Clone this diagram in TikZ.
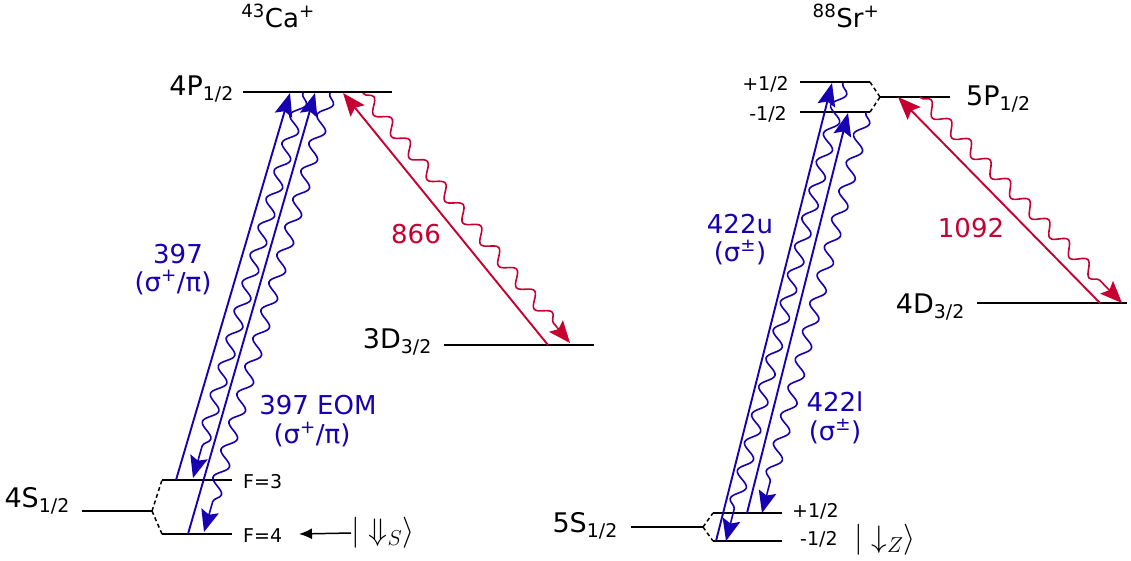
\documentclass[tikz,border=0pt]{standalone}
\usepackage{fontspec}
\setmainfont{DejaVu Sans}
\usetikzlibrary{arrows.meta,decorations.pathmorphing,calc}
\definecolor{lblue}{RGB}{23,0,178}
\definecolor{lred}{RGB}{199,0,50}
\tikzset{
  level/.style={line width=2pt, black},
  split/.style={line width=1.5pt, black, dash pattern=on 4pt off 3pt},
  absorb/.style={line width=1.9pt, -{Stealth[length=23pt,width=18pt,inset=4pt]}},
  wave/.style={line width=1.6pt, decorate,
    decoration={snake, amplitude=6.5pt, segment length=29pt, pre length=1pt, post length=1pt}},
  wavered/.style={line width=1.6pt, decorate,
    decoration={snake, amplitude=6pt, segment length=28pt, pre length=1pt, post length=1pt}},
  wavehead/.style={line width=1.6pt, -{Stealth[length=22pt,width=18pt,inset=4pt]}},
  lvllab/.style={font=\fontsize{27}{30}\selectfont, inner sep=0pt},
  sublab/.style={font=\fontsize{19}{22}\selectfont, inner sep=0pt},
  trlab/.style={font=\fontsize{26}{28}\selectfont, inner sep=0pt},
  ketlab/.style={font=\fontsize{24}{26}\selectfont, inner sep=0pt, scale=1.25},
}
\begin{document}
\begin{tikzpicture}[x=1pt,y=-1pt]
\useasboundingbox (0,0) rectangle (1131,560);

% ---------- Ca levels ----------
\coordinate (P4a) at (243,92);  \coordinate (P4b) at (392,92);
\coordinate (D3a) at (444,345); \coordinate (D3b) at (594,345);
\coordinate (S4a) at (82,511);  \coordinate (S4j) at (152,511);
\coordinate (F3a) at (162,480); \coordinate (F3b) at (232,480);
\coordinate (F4a) at (162,534); \coordinate (F4b) at (232,534);
\draw[level] (P4a) -- (P4b);
\draw[level] (D3a) -- (D3b);
\draw[level] (S4a) -- (S4j);
\draw[level] (F3a) -- (F3b);
\draw[level] (F4a) -- (F4b);
\draw[split] (S4j) -- (F3a);
\draw[split] (S4j) -- (F4a);

\node[trlab, anchor=base] (tCa) at (278,27) {\textsuperscript{43}Ca\textsuperscript{+}};
\node[lvllab, anchor=base east] (P4lab) at (234,95) {4P\textsubscript{1/2}};
\node[lvllab, anchor=base east] (D3lab) at (432,348) {3D\textsubscript{3/2}};
\node[lvllab, anchor=base east] (S4lab) at (70,507) {4S\textsubscript{1/2}};
\node[sublab, anchor=base west] (F3lab) at (243,488) {F=3};
\node[sublab, anchor=base west] (F4lab) at (243,542) {F=4};
\node[ketlab, anchor=west] (ketS) at (351,533) {$|\Downarrow_S\rangle$};
\coordinate (F4arr) at (299,534);
\draw[line width=1.5pt, -{Latex[length=13pt,width=11pt]}] (ketS.west) -- (F4arr);

% ---------- Ca transitions ----------
\coordinate (c1s) at (176,480); \coordinate (c1e) at (290,93);
\coordinate (c2s) at (188,534); \coordinate (c2e) at (315,93);
\coordinate (w1s) at (303,93);  \coordinate (w1e) at (193,478);
\coordinate (w2s) at (330,93);  \coordinate (w2e) at (204,532);
\coordinate (r1s) at (548,345); \coordinate (r1e) at (343,93);
\coordinate (rw1s) at (363,93); \coordinate (rw1e) at (570,343);
\coordinate (w1m) at ($(w1e)!20pt!(w1s)$);
\coordinate (w2m) at ($(w2e)!20pt!(w2s)$);
\coordinate (rw1m) at ($(rw1e)!20pt!(rw1s)$);
\draw[absorb, lblue] (c1s) -- (c1e);
\draw[absorb, lblue] (c2s) -- (c2e);
\draw[wave, lblue] (w1s) -- (w1m);
\draw[wavehead, lblue] (w1m) -- (w1e);
\draw[wave, lblue] (w2s) -- (w2m);
\draw[wavehead, lblue] (w2m) -- (w2e);
\draw[absorb, lred] (r1s) -- (r1e);
\draw[wavered, lred] (rw1s) -- (rw1m);
\draw[wavehead, lred] (rw1m) -- (rw1e);

\node[trlab, lblue, anchor=base] (l397a) at (178,263) {397};
\node[trlab, lblue, anchor=base] (l397b) at (173,291) {(σ\textsuperscript{+}/π)};
\node[trlab, lblue, anchor=base] (lEOMa) at (318,414) {397 EOM};
\node[trlab, lblue, anchor=base] (lEOMb) at (312,443) {(σ\textsuperscript{+}/π)};
\node[trlab, lred, anchor=base] (l866) at (416,243) {866};

% ---------- Sr levels ----------
\coordinate (S5a) at (631,527); \coordinate (S5j) at (703,527);
\coordinate (Spa) at (713,513); \coordinate (Spb) at (782,513);
\coordinate (Sma) at (713,541); \coordinate (Smb) at (782,541);
\coordinate (Ppa) at (800,82);  \coordinate (Ppb) at (870,82);
\coordinate (Pma) at (800,112); \coordinate (Pmb) at (870,112);
\coordinate (P5j) at (880,97);  \coordinate (P5b) at (950,97);
\coordinate (D4a) at (977,303); \coordinate (D4b) at (1127,303);
\draw[level] (S5a) -- (S5j);
\draw[level] (Spa) -- (Spb);
\draw[level] (Sma) -- (Smb);
\draw[level] (Ppa) -- (Ppb);
\draw[level] (Pma) -- (Pmb);
\draw[level] (P5j) -- (P5b);
\draw[level] (D4a) -- (D4b);
\draw[split] (S5j) -- (Spa);
\draw[split] (S5j) -- (Sma);
\draw[split] (Ppb) -- (P5j);
\draw[split] (Pmb) -- (P5j);

\node[trlab, anchor=base] (tSr) at (846,27) {\textsuperscript{88}Sr\textsuperscript{+}};
\node[lvllab, anchor=base east] (S5lab) at (618,532) {5S\textsubscript{1/2}};
\node[sublab, anchor=base west] (Splab) at (792,517) {+1/2};
\node[sublab, anchor=base west] (Smlab) at (800,545) {-1/2};
\node[ketlab, anchor=west] (ketZ) at (854,540) {$|\downarrow_Z\rangle$};
\node[sublab, anchor=base east] (Pplab) at (789,90) {+1/2};
\node[sublab, anchor=base east] (Pmlab) at (787,120) {-1/2};
\node[lvllab, anchor=base west] (P5lab) at (966,105) {5P\textsubscript{1/2}};
\node[lvllab, anchor=base east] (D4lab) at (965,313) {4D\textsubscript{3/2}};

% ---------- Sr transitions ----------
\coordinate (s1s) at (716,541); \coordinate (s1e) at (832,83);
\coordinate (s2s) at (747,513); \coordinate (s2e) at (848,113);
\coordinate (v1s) at (843,83);  \coordinate (v1e) at (726,541);
\coordinate (v2s) at (866,112); \coordinate (v2e) at (762,513);
\coordinate (r2s) at (1100,303); \coordinate (r2e) at (898,97);
\coordinate (rw2s) at (920,97);  \coordinate (rw2e) at (1122,303);
\coordinate (v1m) at ($(v1e)!20pt!(v1s)$);
\coordinate (v2m) at ($(v2e)!20pt!(v2s)$);
\coordinate (rw2m) at ($(rw2e)!20pt!(rw2s)$);
\draw[absorb, lblue] (s1s) -- (s1e);
\draw[absorb, lblue] (s2s) -- (s2e);
\draw[wave, lblue] (v1s) -- (v1m);
\draw[wavehead, lblue] (v1m) -- (v1e);
\draw[wave, lblue] (v2s) -- (v2m);
\draw[wavehead, lblue] (v2m) -- (v2e);
\draw[absorb, lred] (r2s) -- (r2e);
\draw[wavered, lred] (rw2s) -- (rw2m);
\draw[wavehead, lred] (rw2m) -- (rw2e);

\node[trlab, lblue, anchor=base] (l422ua) at (740,233) {422u};
\node[trlab, lblue, anchor=base] (l422ub) at (740,261) {(σ\textsuperscript{±})};
\node[trlab, lblue, anchor=base] (l422la) at (835,411) {422l};
\node[trlab, lblue, anchor=base] (l422lb) at (835,440) {(σ\textsuperscript{±})};
\node[trlab, lred, anchor=base] (l1092) at (971,237) {1092};
\end{tikzpicture}
\end{document}
